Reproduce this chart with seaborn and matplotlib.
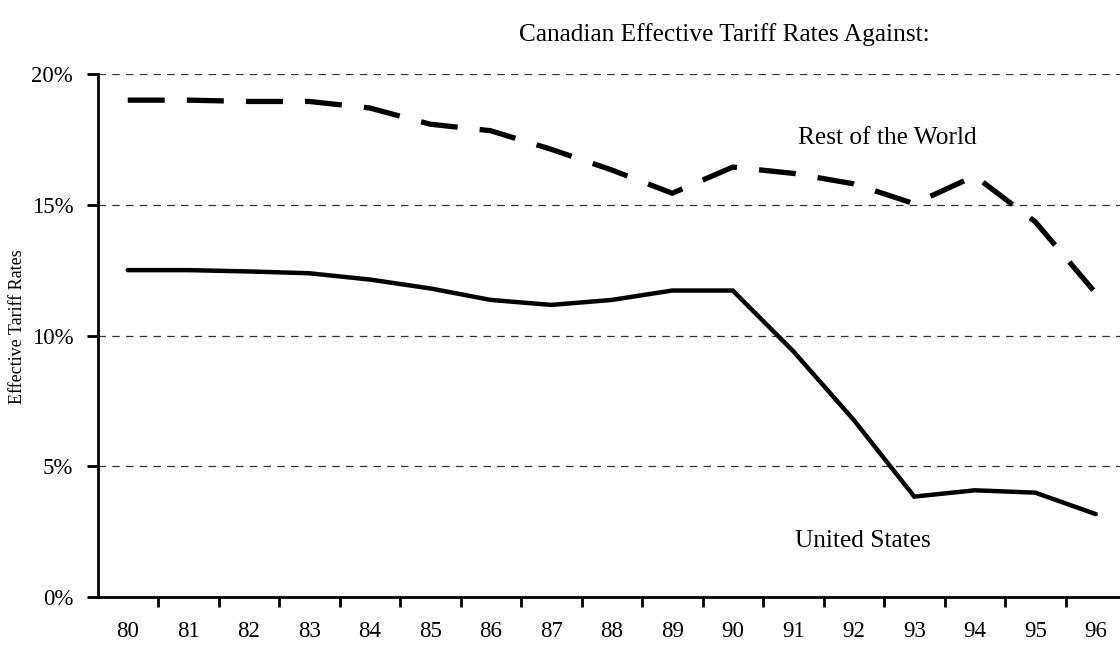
import numpy as np
import pandas as pd
import matplotlib
matplotlib.use('Agg')
import matplotlib.pyplot as plt
from matplotlib.ticker import FuncFormatter, FixedLocator
import seaborn as sns

# Dados
years = ['80', '81', '82', '83', '84', '85', '86', '87', '88',
         '89', '90', '91', '92', '93', '94', '95', '96']
rest_world = [19.0, 19.0, 18.95, 18.95, 18.7, 18.08, 17.83, 17.12, 16.33,
              15.44, 16.44, 16.2, 15.8, 15.04, 16.1, 14.35, 11.62]
united_states = [12.5, 12.5, 12.45, 12.38, 12.14, 11.8, 11.36, 11.17, 11.36,
                 11.72, 11.72, 9.4, 6.77, 3.84, 4.08, 3.99, 3.17]
yticks = [0, 5, 10, 15, 20]

df = pd.DataFrame({'idx': np.arange(len(years)),
                   'row': np.array(rest_world) / 100,
                   'us': np.array(united_states) / 100})

sns.set_style('white')
plt.rcParams['font.family'] = ['Liberation Serif', 'DejaVu Serif']
plt.rcParams['text.color'] = 'black'
plt.rcParams['xtick.color'] = 'black'
plt.rcParams['ytick.color'] = 'black'

fig = plt.figure(figsize=(11.2, 6.45), dpi=100)
ax = fig.add_axes([97.5 / 1120, 48 / 645, 1028.5 / 1120, 523 / 645])

sns.lineplot(data=df, x='idx', y='row', ax=ax, color='black',
             linewidth=3.8, dashes=False)
ax.lines[-1].set_dashes((7, 4.2))
ax.lines[-1].set_solid_capstyle('butt')
sns.lineplot(data=df, x='idx', y='us', ax=ax, color='black',
             linewidth=3.2, solid_joinstyle='miter')

# grade tracejada
for t in yticks[1:]:
    ax.axhline(t / 100, color='#333333', linewidth=0.9,
               linestyle=(0, (6, 5)), zorder=0)

ax.set_xlim(-0.5, len(years) - 0.5)
ax.set_ylim(0, 0.20)
ax.set_xticks(df['idx'])
ax.set_xticklabels(years)
ax.xaxis.set_minor_locator(FixedLocator(np.arange(len(years)) + 0.5))
ax.tick_params(axis='x', which='major', length=0, pad=17, labelsize=16.5)
ax.tick_params(axis='x', which='minor', length=7, width=2, direction='out',
               bottom=True)
ax.set_yticks([t / 100 for t in yticks])
ax.yaxis.set_major_formatter(FuncFormatter(lambda v, p: f'{v*100:.0f}%'))
ax.tick_params(axis='y', length=8, width=2, direction='out', pad=9.5,
               labelsize=16.5, left=True)

for s in ['top', 'right']:
    ax.spines[s].set_visible(False)
for s in ['left', 'bottom']:
    ax.spines[s].set_linewidth(2)
    ax.spines[s].set_color('black')

ax.set_xlabel('')
ax.set_ylabel('')
fig.text(18 / 1120, 1 - 327 / 645, 'Effective Tariff Rates', rotation=90,
         ha='center', va='center', fontsize=13)
fig.text(724 / 1120, 1 - 35 / 645, 'Canadian Effective Tariff Rates Against:',
         ha='center', va='center', fontsize=18.3)
ax.text(12.55, 0.1755, 'Rest of the World', ha='center', va='center',
        fontsize=18.3)
ax.text(12.15, 0.0215, 'United States', ha='center', va='center',
        fontsize=18.3)

plt.savefig('out.png', dpi=100)
plt.close()
